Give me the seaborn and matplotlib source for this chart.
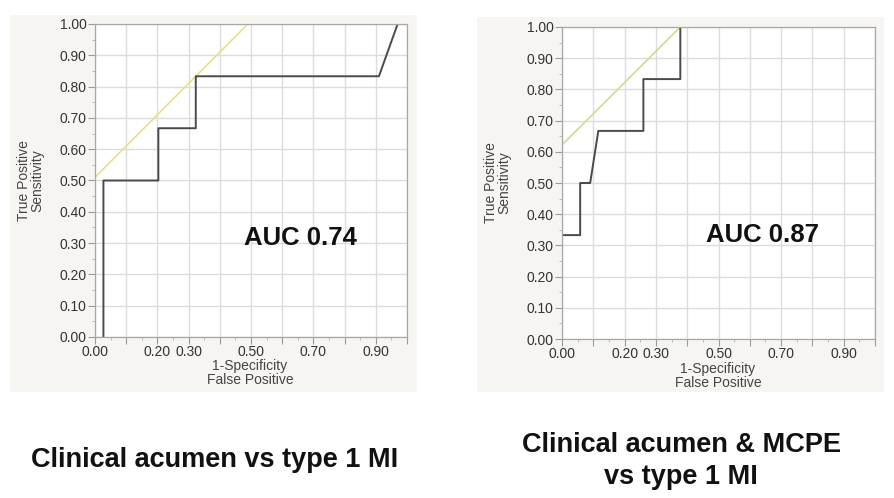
import numpy as np
import pandas as pd
import seaborn as sns
import matplotlib
matplotlib.use("Agg")
import matplotlib.pyplot as plt
from matplotlib.patches import Rectangle
from matplotlib.ticker import MultipleLocator

# ---- data ----
left_fpr = [0.027, 0.027, 0.203, 0.203, 0.323, 0.323, 0.91, 0.97]
left_tpr = [0.0, 0.5, 0.5, 0.667, 0.667, 0.833, 0.833, 1.0]
left_tan_x = [0.0, 0.49]
left_tan_y = [0.51, 1.0]
left_auc = "AUC 0.74"
left_title = "Clinical acumen vs type 1 MI"

right_fpr = [0.0, 0.058, 0.058, 0.09, 0.116, 0.26, 0.26, 0.378, 0.378]
right_tpr = [0.333, 0.333, 0.5, 0.5, 0.667, 0.667, 0.833, 0.833, 1.0]
right_tan_x = [0.0, 0.378]
right_tan_y = [0.622, 1.0]
right_auc = "AUC 0.87"
right_title = "Clinical acumen & MCPE\nvs type 1 MI"

x_tick_vals = [round(0.1 * i, 1) for i in range(11)]
x_tick_labels = ["0.00", "", "0.20", "0.30", "", "0.50", "", "0.70", "", "0.90", ""]
y_tick_vals = [round(0.1 * i, 1) for i in range(11)]
y_tick_labels = [f"{v:.2f}" for v in y_tick_vals]

sns.set_theme(style="white")
plt.rcParams['font.family'] = ['Liberation Sans', 'DejaVu Sans']

W, H = 894, 498
fig = plt.figure(figsize=(W / 100, H / 100), dpi=100)
fig.patch.set_facecolor("white")

def px_rect(x0, y0, x1, y1):
    return [x0 / W, 1 - y1 / H, (x1 - x0) / W, (y1 - y0) / H]

# panel backgrounds
for (x0, y0, x1, y1) in [(10, 15, 417, 392), (477, 17, 884, 392)]:
    fig.patches.append(Rectangle((x0 / W, 1 - y1 / H), (x1 - x0) / W, (y1 - y0) / H,
                                 transform=fig.transFigure, facecolor="#f6f5f1",
                                 edgecolor="none", zorder=-10))

panels = [
    dict(rect=px_rect(95, 24, 407, 337), fpr=left_fpr, tpr=left_tpr,
         tx=left_tan_x, ty=left_tan_y, tcol="#e6df8e", auc=left_auc,
         aucpos=(0.657, 0.316), ylab_x=31, xlab_x=250, xlab_y=373,
         title=left_title, title_xy=(215, 460)),
    dict(rect=px_rect(562, 27, 875, 339), fpr=right_fpr, tpr=right_tpr,
         tx=right_tan_x, ty=right_tan_y, tcol="#cfdc8e", auc=right_auc,
         aucpos=(0.642, 0.333), ylab_x=498, xlab_x=718, xlab_y=376,
         title=right_title, title_xy=(681, 461)),
]

for p in panels:
    ax = fig.add_axes(p["rect"])
    ax.set_zorder(1)
    ax.set_facecolor("white")
    ax.grid(True, which="major", color="#dcdcdc", linewidth=1.0)
    ax.set_axisbelow(True)

    df_tan = pd.DataFrame({"x": p["tx"], "y": p["ty"]})
    sns.lineplot(data=df_tan, x="x", y="y", ax=ax, color=p["tcol"],
                 linewidth=1.2, sort=False, estimator=None)
    df = pd.DataFrame({"x": p["fpr"], "y": p["tpr"]})
    sns.lineplot(data=df, x="x", y="y", ax=ax, color="#4a4a4a",
                 linewidth=1.4, sort=False, estimator=None)

    ax.set_xlabel("")
    ax.set_ylabel("")
    ax.set_xticks(x_tick_vals)
    ax.set_xticklabels(x_tick_labels)
    ax.set_yticks(y_tick_vals)
    ax.set_yticklabels(y_tick_labels)
    ax.set_xlim(0, 1)
    ax.set_ylim(0, 1)
    ax.xaxis.set_minor_locator(MultipleLocator(0.05))
    ax.yaxis.set_minor_locator(MultipleLocator(0.05))
    ax.tick_params(axis="both", which="major", direction="out", length=5,
                   width=0.8, color="#9a9a9a", labelsize=10, labelcolor="#333333",
                   bottom=True, left=True, pad=1)
    ax.tick_params(axis="both", which="minor", direction="out", length=2.5,
                   width=0.6, color="#b0b0b0", bottom=True, left=True)
    for s in ax.spines.values():
        s.set_color("#a8a8a8")
        s.set_linewidth(0.9)

    ax.text(p["aucpos"][0], p["aucpos"][1], p["auc"], ha="center", va="center",
            fontsize=18.5, fontweight="bold", color="#111111")

    bx = p["rect"]
    ycen = bx[1] + bx[3] / 2
    fig.text(p["ylab_x"] / W, ycen, "True Positive\nSensitivity", rotation=90,
             ha="center", va="center", fontsize=10, color="#444444", linespacing=0.95)
    fig.text(p["xlab_x"] / W, 1 - p["xlab_y"] / H, "1-Specificity\nFalse Positive",
             ha="center", va="center", fontsize=10, color="#444444", linespacing=0.95)

    fig.text(p["title_xy"][0] / W, 1 - p["title_xy"][1] / H, p["title"],
             ha="center", va="center", fontsize=19.5, fontweight="bold",
             color="#111111", linespacing=1.3)

fig.savefig("out.png", dpi=100, facecolor="white")
